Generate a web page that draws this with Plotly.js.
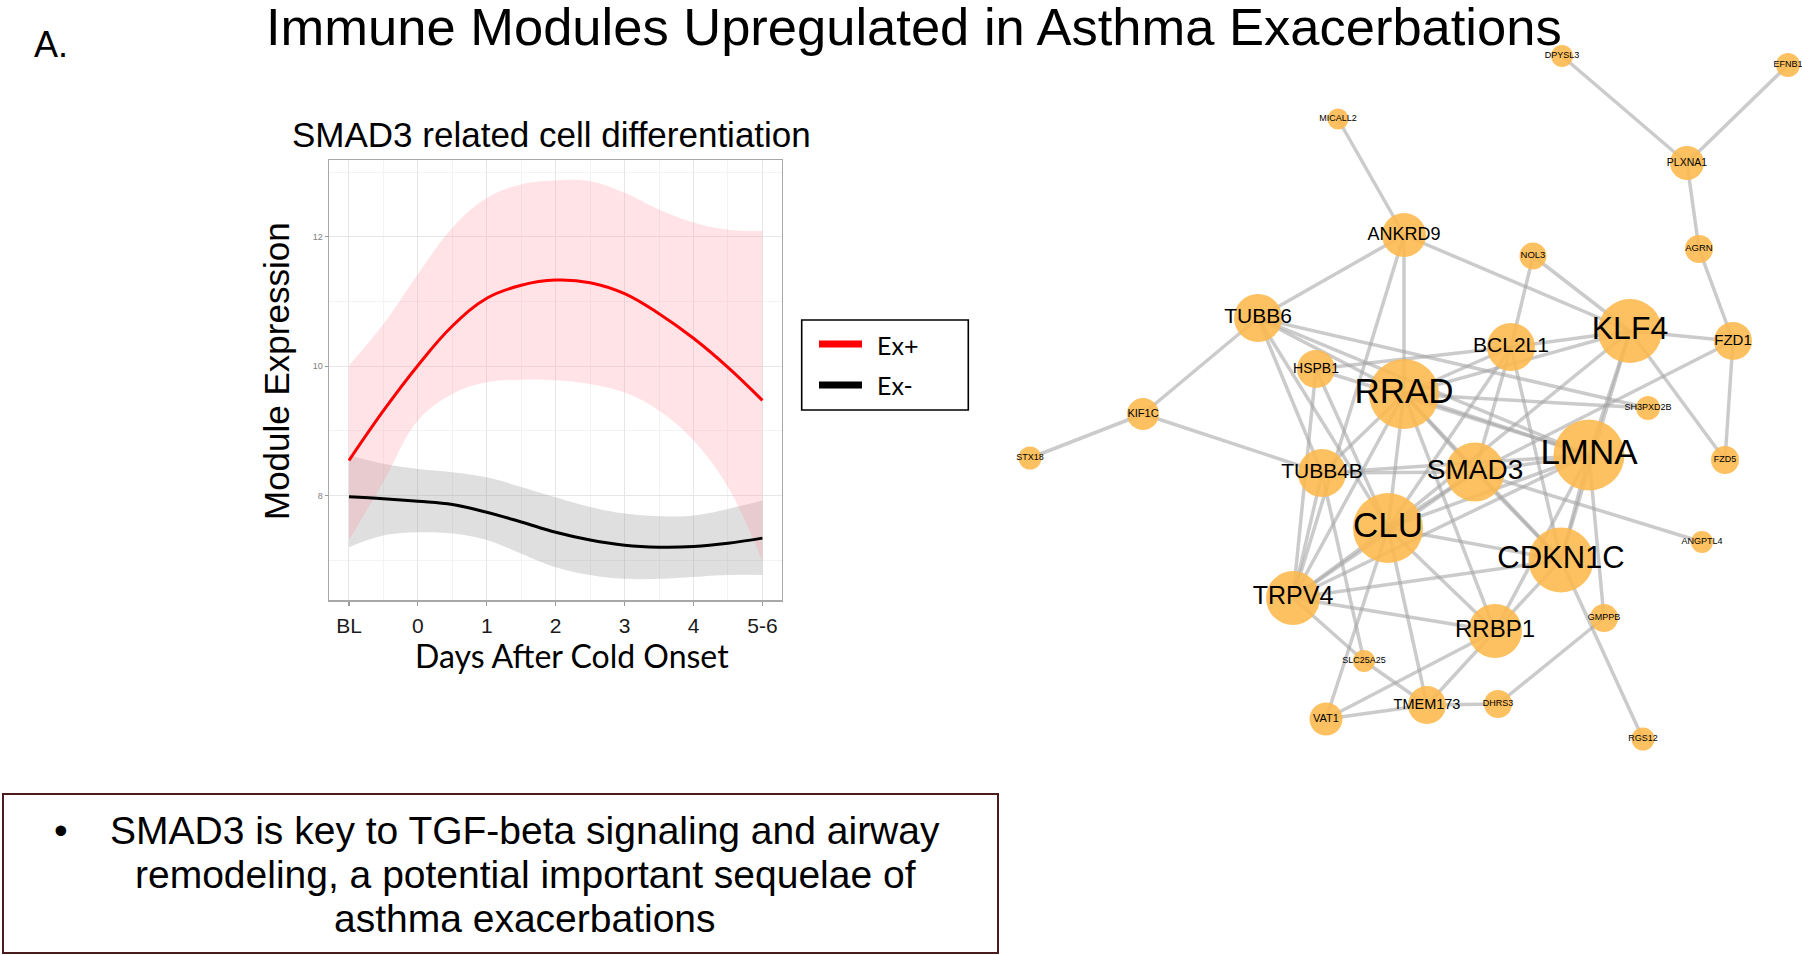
<!DOCTYPE html>
<html><head><meta charset="utf-8">
<script src="https://cdn.plot.ly/plotly-3.0.1.min.js"></script>
<style>html,body{margin:0;padding:0;background:#fff;overflow:hidden}#chart{width:1802px;height:955px}</style>
</head><body><div id="chart"></div>
<script>
// ---------- Module expression data ----------
const days = [-1, -0.5, 0, 0.5, 1, 1.5, 2, 2.5, 3, 3.5, 4, 4.5, 5];
const dayTickVals = [-1, 0, 1, 2, 3, 4, 5];
const dayTickText = ['BL', '0', '1', '2', '3', '4', '5-6'];
const exprTickVals = [8, 10, 12];
const exPlusFit   = [8.54, 9.31, 10.01, 10.62, 11.05, 11.25, 11.33, 11.29, 11.12, 10.81, 10.43, 9.98, 9.47];
const exPlusUpper = [10.01, 10.65, 11.42, 12.14, 12.60, 12.81, 12.87, 12.86, 12.68, 12.42, 12.22, 12.11, 12.09];
const exPlusLower = [7.31, 8.21, 9.16, 9.57, 9.75, 9.79, 9.78, 9.72, 9.59, 9.31, 8.85, 8.13, 6.98];
const exMinusFit   = [7.98, 7.95, 7.91, 7.86, 7.74, 7.59, 7.43, 7.31, 7.23, 7.20, 7.21, 7.26, 7.34];
const exMinusUpper = [8.62, 8.49, 8.41, 8.36, 8.28, 8.13, 7.97, 7.82, 7.72, 7.68, 7.69, 7.79, 7.92];
const exMinusLower = [7.20, 7.38, 7.43, 7.41, 7.31, 7.10, 6.89, 6.77, 6.71, 6.71, 6.74, 6.77, 6.77];
const seriesNames = ['Ex+', 'Ex-'];

// ---------- Network data (layout coordinates, node weight) ----------
const geneNames = ['DPYSL3','EFNB1','MICALL2','PLXNA1','ANKRD9','NOL3','AGRN','TUBB6','KLF4','FZD1','BCL2L1','HSPB1','RRAD','SH3PXD2B','KIF1C','STX18','LMNA','FZD5','TUBB4B','SMAD3','CLU','ANGPTL4','CDKN1C','TRPV4','GMPPB','RRBP1','SLC25A25','DHRS3','TMEM173','VAT1','RGS12'];
const geneLayoutX = [1562,1788,1338,1687,1404,1533,1699,1258,1630,1733,1511,1316,1404,1648,1143,1030,1589,1725,1322,1475,1388,1702,1561,1293,1604,1495,1364,1498,1427,1326,1643];
const geneLayoutY = [56,65,119,163,235,256,249,318,331,341,347,369,394,408,414,458,455,460,473,472,528,542,560,598,618,631,661,704,705,719,739];
const geneWeight  = [22,24,21,34,44,27,28,48,64,38,48,38,70,24,32,23,71,28,48,59,70,22,65,54,28,54,22,28,38,33,23];
const geneLabelWeight = [9,9,9,10.5,18,9.5,9.5,21,32,15,21,14,35,9,11,9,35,9,21,28,35,9,31,25,9,24,9,9,14.5,11,9];
const geneLinks = [
 ['DPYSL3','PLXNA1'],['EFNB1','PLXNA1'],['PLXNA1','AGRN'],['AGRN','FZD1'],['MICALL2','ANKRD9'],
 ['ANKRD9','TUBB6'],['ANKRD9','RRAD'],['ANKRD9','KLF4'],['ANKRD9','TRPV4'],['NOL3','KLF4'],
 ['NOL3','BCL2L1'],['KLF4','FZD1'],['BCL2L1','KLF4'],['RRAD','KLF4'],['TUBB6','KIF1C'],
 ['KIF1C','STX18'],['KIF1C','TUBB4B'],['TUBB6','RRAD'],['TUBB6','LMNA'],['TUBB6','TUBB4B'],
 ['TUBB6','CLU'],['TUBB6','SH3PXD2B'],['HSPB1','BCL2L1'],['HSPB1','LMNA'],['HSPB1','TRPV4'],
 ['HSPB1','CLU'],['RRAD','BCL2L1'],['RRAD','SH3PXD2B'],['RRAD','LMNA'],['RRAD','SMAD3'],
 ['RRAD','CLU'],['RRAD','TRPV4'],['RRAD','TUBB4B'],['RRAD','CDKN1C'],['RRAD','RRBP1'],
 ['FZD1','SMAD3'],['FZD1','FZD5'],['KLF4','FZD5'],['KLF4','LMNA'],['KLF4','CDKN1C'],
 ['KLF4','CLU'],['SMAD3','ANGPTL4'],['LMNA','GMPPB'],['CDKN1C','RGS12'],['GMPPB','DHRS3'],
 ['DHRS3','TMEM173'],['TMEM173','VAT1'],['TMEM173','RRBP1'],['RRBP1','CDKN1C'],['VAT1','RRBP1'],
 ['VAT1','CLU'],['SLC25A25','TMEM173'],['TRPV4','SLC25A25'],['TRPV4','RRBP1'],['TRPV4','CDKN1C'],
 ['TRPV4','CLU'],['TRPV4','SMAD3'],['TRPV4','LMNA'],['TRPV4','TUBB4B'],['TUBB4B','SMAD3'],
 ['TUBB4B','LMNA'],['TUBB4B','SLC25A25'],['CLU','TMEM173'],['CLU','RRBP1'],['CLU','CDKN1C'],
 ['CLU','SMAD3'],['CLU','LMNA'],['SMAD3','CDKN1C'],['SMAD3','LMNA'],['LMNA','CDKN1C'],
 ['BCL2L1','CLU'],['BCL2L1','SMAD3'],['BCL2L1','CDKN1C'],['LMNA','RRBP1']
];

// ---------- Text ----------
const mainTitle = 'Immune Modules Upregulated in Asthma Exacerbations';
const panelLabel = 'A.';
const plotTitle = 'SMAD3 related cell differentiation';
const xTitle = 'Days After Cold Onset';
const yTitle = 'Module Expression';
const noteLines = ['SMAD3 is key to TGF-beta signaling and airway', 'remodeling, a potential important sequelae of', 'asthma exacerbations'];

// ---------- helpers ----------
const W = 1802, H = 955;
const px = x => x / W;
const py = y => 1 - y / H;
const ARIAL = 'Liberation Sans, Arial, sans-serif';
const CAL = 'Lato, Carlito, sans-serif';

const traces = [];
// Ex- band
traces.push({x: days, y: exMinusLower, mode: 'lines', line: {width: 0, shape: 'spline', smoothing: 1.1}, showlegend: false, hoverinfo: 'skip', xaxis: 'x', yaxis: 'y'});
traces.push({x: days, y: exMinusUpper, mode: 'lines', line: {width: 0, shape: 'spline', smoothing: 1.1}, fill: 'tonexty', fillcolor: 'rgba(150,150,150,0.30)', showlegend: false, hoverinfo: 'skip', xaxis: 'x', yaxis: 'y'});
// Ex+ band
traces.push({x: days, y: exPlusLower, mode: 'lines', line: {width: 0, shape: 'spline', smoothing: 1.1}, showlegend: false, hoverinfo: 'skip', xaxis: 'x', yaxis: 'y'});
traces.push({x: days, y: exPlusUpper, mode: 'lines', line: {width: 0, shape: 'spline', smoothing: 1.1}, fill: 'tonexty', fillcolor: 'rgba(255,150,168,0.27)', showlegend: false, hoverinfo: 'skip', xaxis: 'x', yaxis: 'y'});
// fits
traces.push({x: days, y: exMinusFit, name: seriesNames[1], mode: 'lines', line: {color: '#000000', width: 3, shape: 'spline', smoothing: 1.1}, showlegend: false, xaxis: 'x', yaxis: 'y'});
traces.push({x: days, y: exPlusFit, name: seriesNames[0], mode: 'lines', line: {color: '#ff0000', width: 3, shape: 'spline', smoothing: 1.1}, showlegend: false, xaxis: 'x', yaxis: 'y'});

// network edges
const idx = {};
geneNames.forEach((g, i) => idx[g] = i);
const ex = [], ey = [];
geneLinks.forEach(([a, b]) => {
  ex.push(geneLayoutX[idx[a]], geneLayoutX[idx[b]], null);
  ey.push(geneLayoutY[idx[a]], geneLayoutY[idx[b]], null);
});
traces.push({x: ex, y: ey, mode: 'lines', line: {color: 'rgba(165,165,165,0.58)', width: 3.5}, hoverinfo: 'skip', showlegend: false, xaxis: 'x2', yaxis: 'y2'});
traces.push({x: geneLayoutX, y: geneLayoutY, text: geneNames, mode: 'markers+text', textposition: 'middle center',
  marker: {size: geneWeight, color: 'rgb(253,184,76)', opacity: 0.88, line: {width: 0}},
  textfont: {family: ARIAL, size: geneLabelWeight, color: '#000'}, cliponaxis: false, showlegend: false,
  xaxis: 'x2', yaxis: 'y2'});

const annotations = [
  {text: mainTitle, x: px(914), y: py(26), xref: 'paper', yref: 'paper', showarrow: false, xanchor: 'center', yanchor: 'middle', borderpad: 0, font: {family: ARIAL, size: 52.5, color: '#000'}},
  {text: panelLabel, x: px(32), y: py(44), xref: 'paper', yref: 'paper', showarrow: false, xanchor: 'left', yanchor: 'middle', font: {family: ARIAL, size: 36, color: '#000'}},
  {text: plotTitle, x: px(551), y: py(134), xref: 'paper', yref: 'paper', showarrow: false, xanchor: 'center', yanchor: 'middle', font: {family: ARIAL, size: 35, color: '#000'}},
  {text: yTitle, x: px(277), y: py(371), xref: 'paper', yref: 'paper', showarrow: false, textangle: -90, xanchor: 'center', yanchor: 'middle', font: {family: ARIAL, size: 35, color: '#000'}},
  {text: xTitle, x: px(572), y: py(655), xref: 'paper', yref: 'paper', showarrow: false, xanchor: 'center', yanchor: 'middle', font: {family: CAL, size: 32, color: '#000'}},
  {text: seriesNames[0], x: px(875), y: py(345), xref: 'paper', yref: 'paper', showarrow: false, xanchor: 'left', yanchor: 'middle', font: {family: CAL, size: 25, color: '#000'}},
  {text: seriesNames[1], x: px(875), y: py(385), xref: 'paper', yref: 'paper', showarrow: false, xanchor: 'left', yanchor: 'middle', font: {family: CAL, size: 25, color: '#000'}},
  {text: '\u2022', x: px(61), y: py(830), xref: 'paper', yref: 'paper', showarrow: false, xanchor: 'center', yanchor: 'middle', font: {family: ARIAL, size: 39, color: '#000'}},
];
const lineY = [830, 874, 918];
noteLines.forEach((t, i) => annotations.push({text: t, x: px(525), y: py(lineY[i]), xref: 'paper', yref: 'paper', showarrow: false, xanchor: 'center', yanchor: 'middle', font: {family: ARIAL, size: 39, color: '#000'}}));

const shapes = [
  {type: 'rect', xref: 'paper', yref: 'paper', x0: px(801.7), x1: px(968.3), y0: py(320), y1: py(410), line: {color: '#000', width: 1.6}},
  {type: 'line', xref: 'paper', yref: 'paper', x0: px(819), x1: px(862), y0: py(344), y1: py(344), line: {color: '#ff0000', width: 7}},
  {type: 'line', xref: 'paper', yref: 'paper', x0: px(819), x1: px(862), y0: py(385), y1: py(385), line: {color: '#000', width: 7}},
  {type: 'rect', xref: 'paper', yref: 'paper', x0: px(3), x1: px(998), y0: py(794), y1: py(953), line: {color: '#4a1c1c', width: 2}},
];

const layout = {
  width: W, height: H, margin: {l: 0, r: 0, t: 0, b: 0},
  paper_bgcolor: '#fff', plot_bgcolor: 'rgba(0,0,0,0)', showlegend: false,
  xaxis: {domain: [px(329), px(781.7)], range: [-1.29, 5.28], tickmode: 'array', tickvals: dayTickVals, ticktext: dayTickText,
    tickfont: {family: ARIAL, size: 21, color: '#1a1a1a'}, ticks: 'outside', ticklen: 4, tickcolor: '#9a9a9a', tickwidth: 1.2,
    showgrid: true, gridcolor: '#e6e6e6', gridwidth: 1, zeroline: false, showline: true, linecolor: '#a8a8a8', linewidth: 1.5, mirror: true,
    minor: {dtick: 0.5, tick0: 0, showgrid: true, gridcolor: '#f3f3f3', gridwidth: 1}, anchor: 'y', fixedrange: true, ticklabelstandoff: 2},
  yaxis: {domain: [py(600), py(160)], range: [6.383, 13.187], tickmode: 'array', tickvals: exprTickVals,
    tickfont: {family: ARIAL, size: 9, color: '#808080'}, ticks: 'outside', ticklen: 3, tickcolor: '#9a9a9a',
    showgrid: true, gridcolor: '#e6e6e6', gridwidth: 1, zeroline: false, showline: true, linecolor: '#a8a8a8', linewidth: 1.5, mirror: true,
    minor: {dtick: 1, tick0: 0, showgrid: true, gridcolor: '#f3f3f3', gridwidth: 1}, anchor: 'x', fixedrange: true},
  xaxis2: {domain: [0, 1], range: [0, W], visible: false, anchor: 'y2', fixedrange: true},
  yaxis2: {domain: [0, 1], range: [H, 0], visible: false, anchor: 'x2', fixedrange: true},
  annotations: annotations, shapes: shapes
};
Plotly.newPlot('chart', traces, layout, {displayModeBar: false, staticPlot: true});
</script></body></html>
